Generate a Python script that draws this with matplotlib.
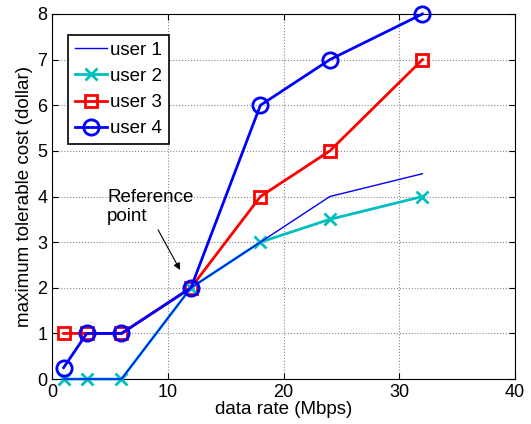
import matplotlib
matplotlib.use('Agg')
import matplotlib.pyplot as plt

plt.rcParams['font.family'] = ['Liberation Sans', 'DejaVu Sans']

# data
rate = [1, 3, 6, 12, 18, 24, 32]
user1 = [0, 0, 0, 2, 3, 4, 4.5]
user2 = [0, 0, 0, 2, 3, 3.5, 4]
user3 = [1, 1, 1, 2, 4, 5, 7]
user4 = [0.25, 1, 1, 2, 6, 7, 8]

fig = plt.figure(figsize=(5.31, 4.24), dpi=100)
ax = fig.add_axes([0.098, 0.106, 0.872, 0.861])

ax.plot(rate, user1, color='#0000ff', lw=1, label='user 1', zorder=5, clip_on=False)
ax.plot(rate, user2, color='#00bfbf', lw=2, marker='x', ms=8, mew=2, label='user 2', zorder=4, clip_on=False)
ax.plot(rate, user3, color='#ff0000', lw=2, marker='s', ms=8, mew=2, mfc='none', label='user 3', zorder=3, clip_on=False)
ax.plot(rate, user4, color='#0000ff', lw=2, marker='o', ms=11, mew=2, mfc='none', label='user 4', zorder=6, clip_on=False)

# reference point label + arrow
ax.text(4.75, 4.17, 'Reference\npoint', fontsize=13.5, ha='left', va='top', linespacing=1.15)
ax.annotate('', xy=(11.06, 2.39), xytext=(9.16, 3.27),
            arrowprops=dict(arrowstyle='-|>', color='black', lw=0.8, mutation_scale=10,
                            shrinkA=0, shrinkB=0))

ax.set_xlim(0, 40)
ax.set_ylim(0, 8)
ax.set_xticks([0, 10, 20, 30, 40])
ax.set_yticks(range(0, 9))
ax.grid(True, linestyle=':', color='#888888', lw=0.8)
ax.tick_params(direction='in', labelsize=13, top=True, right=True, length=4)
ax.set_xlabel('data rate (Mbps)', fontsize=13.5, labelpad=0)
ax.set_ylabel('maximum tolerable cost (dollar)', fontsize=13.5, labelpad=3)

leg = ax.legend(loc='upper left', bbox_to_anchor=(0.035, 0.942), fontsize=13.5, fancybox=False,
                framealpha=1, edgecolor='black', handlelength=1.7, borderpad=0.35,
                labelspacing=0.48, handletextpad=0.2, borderaxespad=0)
leg.get_frame().set_linewidth(1.2)

fig.savefig('out.png', dpi=100)
